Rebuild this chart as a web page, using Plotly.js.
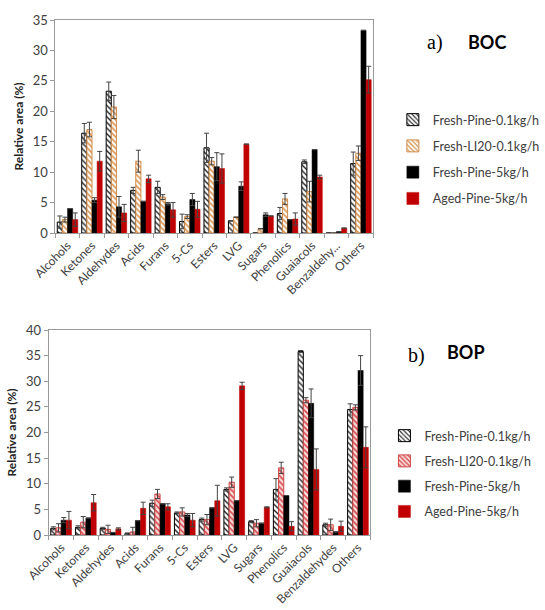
<!DOCTYPE html>
<html>
<head>
<meta charset="utf-8">
<script src="https://cdn.plot.ly/plotly-3.0.1.min.js"></script>
<style>html,body{margin:0;padding:0;background:#fff;}#chart{width:545px;height:610px;}</style>
</head>
<body>
<div id="chart"></div>
<script>
// ---- Data ----
var seriesNames = ["Fresh-Pine-0.1kg/h", "Fresh-LI20-0.1kg/h", "Fresh-Pine-5kg/h", "Aged-Pine-5kg/h"];

var catsBOC = ["Alcohols","Ketones","Aldehydes","Acids","Furans","5-Cs","Esters","LVG","Sugars","Phenolics","Guaiacols","Benzaldehy...","Others"];
var catsBOP = ["Alcohols","Ketones","Aldehydes","Acids","Furans","5-Cs","Esters","LVG","Sugars","Phenolics","Guaiacols","Benzaldehydes","Others"];

// BOC (a)
var bocFreshPine01   = [1.8, 16.4, 23.3, 7.0, 7.5, 1.9, 14.0, 2.0, 0.0, 3.2, 11.7, 0.0, 11.4];
var bocFreshPine01Er = [1.0, 1.6, 1.5, 0.5, 1.0, 1.2, 2.4, 0.0, 0.0, 1.0, 0.3, 0.0, 1.9];
var bocFreshLI20     = [2.2, 17.0, 20.7, 11.8, 5.9, 2.7, 11.8, 2.6, 0.7, 5.6, 6.8, 0.0, 13.1];
var bocFreshLI20Er   = [0.4, 1.2, 1.9, 1.8, 0.4, 0.3, 0.6, 0.0, 0.0, 0.9, 1.7, 0.0, 1.2];
var bocFreshPine5    = [4.0, 5.4, 4.3, 5.2, 4.8, 5.5, 10.9, 7.7, 3.0, 2.2, 13.7, 0.2, 33.3];
var bocFreshPine5Er  = [0.0, 0.4, 1.7, 0.0, 0.2, 1.0, 2.3, 0.7, 0.3, 0.0, 0.0, 0.0, 0.0];
var bocAgedPine5     = [2.2, 11.8, 3.3, 8.9, 3.8, 3.9, 10.6, 14.6, 2.8, 2.3, 9.2, 0.8, 25.2];
var bocAgedPine5Er   = [1.1, 1.6, 1.4, 0.6, 1.2, 1.3, 2.4, 0.0, 0.0, 1.0, 0.3, 0.0, 2.2];

// BOP (b)
var bopFreshPine01   = [1.3, 1.5, 1.3, 0.3, 6.2, 4.3, 3.0, 8.9, 2.6, 8.9, 35.8, 2.0, 24.5];
var bopFreshPine01Er = [0.3, 0.3, 0.2, 0.1, 0.6, 0.2, 0.3, 0.3, 0.2, 2.1, 0.2, 0.3, 1.1];
var bopFreshLI20     = [1.4, 2.5, 1.1, 0.6, 8.0, 4.5, 3.0, 10.3, 2.3, 13.1, 26.3, 2.0, 24.9];
var bopFreshLI20Er   = [0.8, 1.1, 0.8, 0.9, 0.9, 0.8, 1.0, 1.0, 0.7, 1.1, 0.5, 1.1, 0.5];
var bopFreshPine5    = [2.9, 3.3, 0.5, 2.8, 6.1, 3.9, 5.3, 6.7, 2.3, 7.7, 25.7, 0.6, 32.1];
var bopFreshPine5Er  = [0.5, 0.0, 0.0, 0.0, 0.0, 0.3, 0.0, 0.0, 0.0, 0.0, 2.8, 0.0, 2.9];
var bopAgedPine5     = [2.9, 6.3, 1.2, 5.2, 5.5, 2.9, 6.7, 29.1, 5.4, 1.7, 12.8, 1.7, 17.1];
var bopAgedPine5Er   = [1.7, 1.6, 0.2, 1.2, 0.6, 1.3, 3.0, 0.7, 0.1, 0.9, 4.0, 1.0, 4.0];

// ---- Styles ----
var FONT = "Lato, 'Open Sans', sans-serif";
var TXT = "#404040";

function mk(name, x, y, err, xa, ya, legend, style, group) {
  return {
    type: "bar", name: name, x: x, y: y,
    xaxis: xa, yaxis: ya, legend: legend, legendgroup: group,
    marker: style,
    error_y: {type: "data", array: err, symmetric: true, color: "#444", thickness: 1, width: 2.5},
    hoverinfo: "skip"
  };
}
var stWhite = {color: "#fff", line: {color: "#000", width: 1}, pattern: {shape: "\\", fgcolor: "#222", bgcolor: "#fff", size: 4, solidity: 0.35}};
var stOrange = {color: "#fff", line: {color: "#d08c4c", width: 1}, pattern: {shape: "\\", fgcolor: "#d8934f", bgcolor: "#fff", size: 4, solidity: 0.4}};
var stPink = {color: "#fff", line: {color: "#d04848", width: 1}, pattern: {shape: "\\", fgcolor: "#d9474a", bgcolor: "#f8dede", size: 4, solidity: 0.4}};
var stBlack = {color: "#000", line: {color: "#000", width: 0.5}};
var stRed = {color: "#c00000", line: {color: "#c00000", width: 0.5}};

var traces = [
  mk(seriesNames[0], catsBOC, bocFreshPine01, bocFreshPine01Er, "x", "y", "legend", stWhite, "a0"),
  mk(seriesNames[1], catsBOC, bocFreshLI20, bocFreshLI20Er, "x", "y", "legend", stOrange, "a1"),
  mk(seriesNames[2], catsBOC, bocFreshPine5, bocFreshPine5Er, "x", "y", "legend", stBlack, "a2"),
  mk(seriesNames[3], catsBOC, bocAgedPine5, bocAgedPine5Er, "x", "y", "legend", stRed, "a3"),
  mk(seriesNames[0], catsBOP, bopFreshPine01, bopFreshPine01Er, "x2", "y2", "legend2", stWhite, "b0"),
  mk(seriesNames[1], catsBOP, bopFreshLI20, bopFreshLI20Er, "x2", "y2", "legend2", stPink, "b1"),
  mk(seriesNames[2], catsBOP, bopFreshPine5, bopFreshPine5Er, "x2", "y2", "legend2", stBlack, "b2"),
  mk(seriesNames[3], catsBOP, bopAgedPine5, bopAgedPine5Er, "x2", "y2", "legend2", stRed, "b3")
];

function xax(domain, anchor) {
  return {
    domain: domain, anchor: anchor, type: "category",
    showline: true, linecolor: "#9a9a9a", linewidth: 1, mirror: true,
    ticks: "outside", tickson: "boundaries", ticklen: 4, tickcolor: "#9a9a9a",
    tickangle: -45, tickfont: {family: FONT, size: 12, color: TXT},
    showgrid: false, zeroline: false, fixedrange: true
  };
}
function yax(domain, anchor, max) {
  return {
    domain: domain, anchor: anchor, range: [0, max], dtick: 5,
    showline: true, linecolor: "#9a9a9a", linewidth: 1, mirror: true,
    ticks: "outside", ticklen: 4, tickcolor: "#9a9a9a",
    tickfont: {family: FONT, size: 13, color: TXT},
    showgrid: false, zeroline: false, fixedrange: true,
    title: {text: "<b>Relative area (%)</b>", font: {family: FONT, size: 12, color: "#222"}, standoff: 6}
  };
}

var layout = {
  width: 545, height: 610,
  margin: {l: 0, r: 0, t: 0, b: 0},
  paper_bgcolor: "#fff", plot_bgcolor: "#fff",
  barmode: "group", bargap: 0.16, bargroupgap: 0,
  hovermode: false,
  xaxis: xax([59/545, 398/545], "y"),
  yaxis: yax([1 - 233/610, 1 - 20/610], "x", 35),
  xaxis2: xax([52/545, 395/545], "y2"),
  yaxis2: yax([1 - 535/610, 1 - 330/610], "x2", 40),
  legend: {x: 419/545, y: 1 - 105/610, xanchor: "left", yanchor: "top", tracegroupgap: 7,
           font: {family: FONT, size: 12.5, color: TXT}, itemwidth: 30, bgcolor: "rgba(0,0,0,0)"},
  legend2: {x: 410/545, y: 1 - 421/610, xanchor: "left", yanchor: "top", tracegroupgap: 6,
           font: {family: FONT, size: 12.5, color: TXT}, itemwidth: 30, bgcolor: "rgba(0,0,0,0)"},
  annotations: [
    {text: "a)", xref: "paper", yref: "paper", x: 453/545, y: 1 - 42/610, xanchor: "left", yanchor: "middle", showarrow: false,
     font: {family: "'Liberation Serif', 'DejaVu Serif', serif", size: 20, color: "#000"}},
    {text: "<b>BOC</b>", xref: "paper", yref: "paper", x: 497/545, y: 1 - 42/610, xanchor: "left", yanchor: "middle", showarrow: false,
     font: {family: FONT, size: 18, color: "#000"}},
    {text: "b)", xref: "paper", yref: "paper", x: 433/545, y: 1 - 355/610, xanchor: "left", yanchor: "middle", showarrow: false,
     font: {family: "'Liberation Serif', 'DejaVu Serif', serif", size: 20, color: "#000"}},
    {text: "<b>BOP</b>", xref: "paper", yref: "paper", x: 475/545, y: 1 - 352/610, xanchor: "left", yanchor: "middle", showarrow: false,
     font: {family: FONT, size: 18, color: "#000"}}
  ]
};

Plotly.newPlot("chart", traces, layout, {staticPlot: true, displayModeBar: false});
</script>
</body>
</html>
